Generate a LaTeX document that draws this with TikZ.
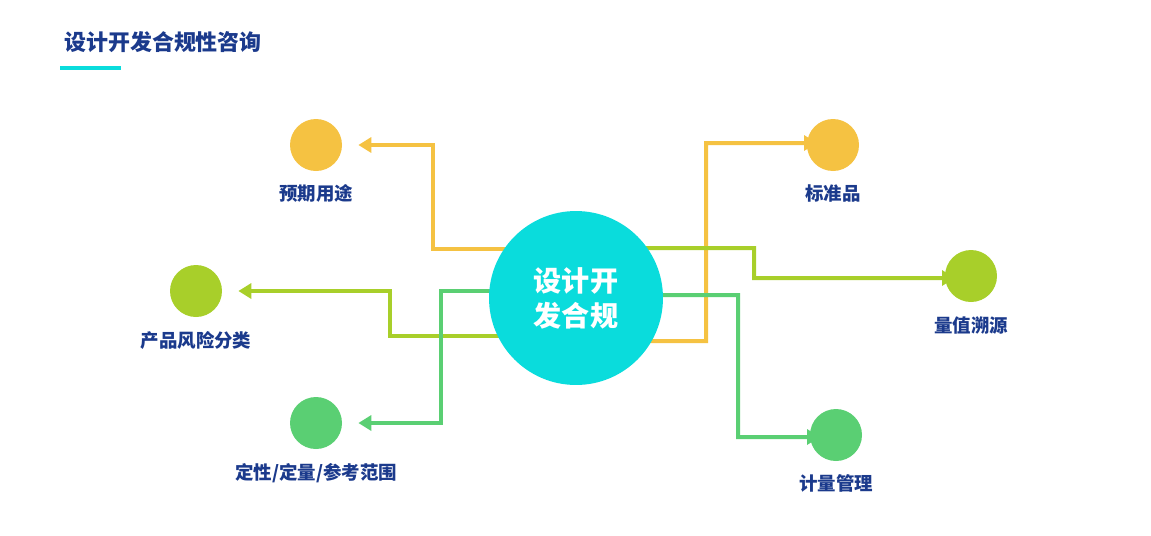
\documentclass[tikz,border=0pt]{standalone}
\usepackage{fontspec}
\setmainfont{Noto Sans CJK SC}
\usetikzlibrary{arrows.meta,backgrounds}
\definecolor{navy}{HTML}{1B3A8C}
\definecolor{hubc}{HTML}{0ADCDC}
\definecolor{orng}{HTML}{F5C242}
\definecolor{lime}{HTML}{A8CF2A}
\definecolor{grn}{HTML}{5ACF73}
\tikzset{
  dot/.style={circle, minimum size=1.04cm, inner sep=0pt, fill=#1},
  lbl/.style={text=navy, font=\bfseries\fontsize{10.5pt}{12pt}\selectfont},
  link/.style={draw=#1, line width=0.08cm, -{Triangle[length=0.26cm,width=0.3cm]}, shorten >=0.32cm}
}
\begin{document}
\begin{tikzpicture}[x=0.02cm, y=-0.02cm]
			\useasboundingbox (0,0) rectangle (1151,535);
			\node[anchor=west, text=navy, font=\bfseries\fontsize{12.5pt}{14pt}\selectfont] (title) at (58,42) {设计开发合规性咨询};
			\fill[hubc] (60,66) rectangle (121,70);
			\node[circle, fill=hubc, minimum size=3.48cm, inner sep=0pt, text=white, align=center,
			      font=\bfseries\fontsize{16pt}{20pt}\selectfont] (hub) at (576,298) {设计开\\发合规};
			\node[dot=orng] (yq) at (316,145) {};
			\node[lbl] at (316,193) {预期用途};
			\node[dot=lime] (fx) at (196,291) {};
			\node[lbl] at (196,340) {产品风险分类};
			\node[dot=grn] (dx) at (316,423) {};
			\node[lbl] at (316,473) {定性/定量/参考范围};
			\node[dot=orng] (bz) at (833,145) {};
			\node[lbl] at (833,193) {标准品};
			\node[dot=lime] (sy) at (971,276) {};
			\node[lbl] at (971,326) {量值溯源};
			\node[dot=grn] (jl) at (836,435) {};
			\node[lbl] at (836,483) {计量管理};
			\begin{scope}[on background layer]
			\draw[link=orng] (hub.center |- 0,249) -- (433,249) -- (433,145) -- (yq);
			\draw[link=lime] (hub.center |- 0,336) -- (390,336) -- (390,291) -- (fx);
			\draw[link=grn] (hub.center |- 0,291) -- (441,291) -- (441,423) -- (dx);
			\draw[link=orng] (hub.center |- 0,341) -- (706,341) -- (706,143) -- ([yshift=0.04cm]bz.center);
			\draw[link=lime] (hub.center |- 0,248) -- (754,248) -- (754,278) -- ([yshift=-0.04cm]sy.center);
			\draw[link=grn] (hub.center |- 0,295) -- (738,295) -- (738,437) -- ([yshift=-0.04cm]jl.center);
			\end{scope}
\end{tikzpicture}
\end{document}
